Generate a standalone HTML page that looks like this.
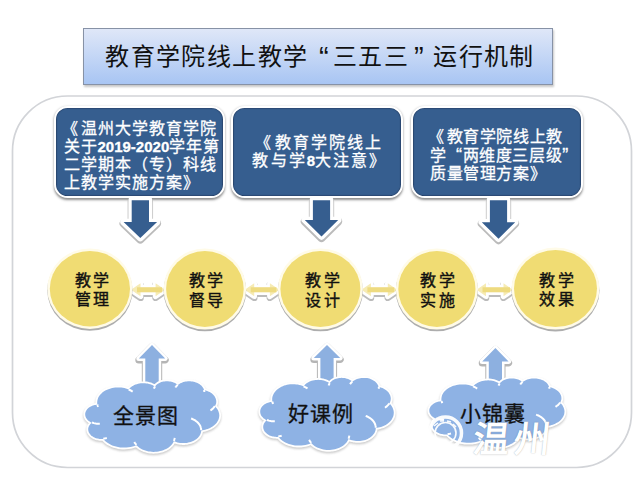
<!DOCTYPE html>
<html lang="zh-CN"><head><meta charset="utf-8">
<style>
html,body{margin:0;padding:0;background:#fff;}
body{width:640px;height:480px;overflow:hidden;position:relative;font-family:"Liberation Sans",sans-serif;}
.abs{position:absolute;}
#title{left:83px;top:28px;width:468px;height:55px;border:1px solid #8792a6;
 background:linear-gradient(#dfe7f8,#a8c5f3);box-shadow:1px 2px 2px rgba(0,0,0,0.22);
 font-size:24px;line-height:55px;text-align:center;color:#111;letter-spacing:1.45px;white-space:nowrap;text-indent:4px;}
.q{display:inline-block;width:24px;font-size:29px;line-height:20px;vertical-align:-2px;letter-spacing:0;}
.lq{position:relative;}
.box{background:#365E8F;border:2.5px solid #fff;border-radius:13.5px;box-shadow:0 1.5px 2.5px rgba(0,0,0,0.45),inset 0 0 1px 0.6px rgba(30,50,85,0.85);color:#fff;font-size:16px;line-height:18px;letter-spacing:1px;white-space:nowrap;-webkit-text-stroke:0.3px #fff;}
.num{font-weight:bold;letter-spacing:0;font-size:15px;}
.ct{position:absolute;font-size:16px;line-height:19.3px;color:#111;text-align:center;white-space:nowrap;letter-spacing:2.6px;-webkit-text-stroke:0.4px #111;}
.cl{position:absolute;font-size:21px;line-height:21px;color:#111;white-space:nowrap;letter-spacing:1.2px;-webkit-text-stroke:0.3px #111;}
svg{position:absolute;left:0;top:0;}
</style></head><body>
<div id="title" class="abs">教育学院线上教学<span class="q" style="text-align:right;padding-right:4px;width:20px">“</span>三五三<span class="q" style="text-align:left;padding-left:1px;width:23px">”</span>运行机制</div>
<div class="abs box" style="left:53.5px;top:106.1px;width:167.4px;height:87.65px;">
 <div style="position:absolute;left:8px;top:12.4px;"><span class="lq" style="left:-2px">《</span>温州大学教育学院<br>关于<span class="num">2019-2020</span>学年第<br>二学期本（专）科线<br>上教学实施方案》</div>
</div>
<div class="abs box" style="left:230.5px;top:106.1px;width:168.8px;height:87.65px;">
 <div style="position:absolute;left:3px;width:169px;top:25.6px;text-align:center;letter-spacing:2.1px;"><span class="lq" style="left:-1.5px">《</span>教育学院线上<br>教与学<span class="num">8</span>大注意》</div>
</div>
<div class="abs box" style="left:411px;top:106.1px;width:168.4px;height:87.65px;">
 <div style="position:absolute;left:17px;top:20.4px;letter-spacing:0.6px;font-size:16px;line-height:18.5px;"><span class="lq" style="left:-2px">《</span>教育学院线上教<br>学<span class="q" style="width:16px;text-align:right;font-size:18px;vertical-align:0;letter-spacing:0.6px;line-height:10px">“</span>两维度三层级<span class="q" style="width:16px;text-align:left;font-size:18px;vertical-align:0;letter-spacing:0.6px;line-height:10px">”</span><br>质量管理方案》</div>
</div>
<svg width="640" height="480" viewBox="0 0 640 480">
<defs><filter id="b1" x="-20%" y="-20%" width="140%" height="140%"><feGaussianBlur stdDeviation="0.8"/></filter><filter id="b2" x="-20%" y="-20%" width="140%" height="140%"><feGaussianBlur stdDeviation="0.5"/></filter></defs>
<rect x="12.5" y="96" width="619" height="371.5" rx="55" ry="55" fill="none" stroke="#d2d4d8" stroke-width="1.7"/>
<path d="M131.7,200.2 L149.0,200.2 L149.0,222.0 L157.1,222.0 L140.3,238.0 L123.6,222.0 L131.7,222.0Z" fill="#7a7a7a" stroke="#7a7a7a" stroke-width="8.1" stroke-linejoin="round" opacity="0.50" transform="translate(0,1.5)" filter="url(#b2)"/>
<path d="M131.7,200.2 L149.0,200.2 L149.0,222.0 L157.1,222.0 L140.3,238.0 L123.6,222.0 L131.7,222.0Z" fill="#fff" stroke="#fff" stroke-width="6.6" stroke-linejoin="round"/>
<path d="M131.7,200.2 L149.0,200.2 L149.0,222.0 L157.1,222.0 L140.3,238.0 L123.6,222.0 L131.7,222.0Z" fill="#365E8F"/>
<path d="M312.9,200.2 L330.1,200.2 L330.1,220.0 L338.2,220.0 L321.5,236.5 L304.8,220.0 L312.9,220.0Z" fill="#7a7a7a" stroke="#7a7a7a" stroke-width="8.1" stroke-linejoin="round" opacity="0.50" transform="translate(0,1.5)" filter="url(#b2)"/>
<path d="M312.9,200.2 L330.1,200.2 L330.1,220.0 L338.2,220.0 L321.5,236.5 L304.8,220.0 L312.9,220.0Z" fill="#fff" stroke="#fff" stroke-width="6.6" stroke-linejoin="round"/>
<path d="M312.9,200.2 L330.1,200.2 L330.1,220.0 L338.2,220.0 L321.5,236.5 L304.8,220.0 L312.9,220.0Z" fill="#365E8F"/>
<path d="M489.9,200.2 L507.1,200.2 L507.1,222.2 L515.2,222.2 L498.5,238.7 L481.8,222.2 L489.9,222.2Z" fill="#7a7a7a" stroke="#7a7a7a" stroke-width="8.1" stroke-linejoin="round" opacity="0.50" transform="translate(0,1.5)" filter="url(#b2)"/>
<path d="M489.9,200.2 L507.1,200.2 L507.1,222.2 L515.2,222.2 L498.5,238.7 L481.8,222.2 L489.9,222.2Z" fill="#fff" stroke="#fff" stroke-width="6.6" stroke-linejoin="round"/>
<path d="M489.9,200.2 L507.1,200.2 L507.1,222.2 L515.2,222.2 L498.5,238.7 L481.8,222.2 L489.9,222.2Z" fill="#365E8F"/>
<path d="M131.0,289.8 L140.5,283.3 L140.5,287.5 L155.6,287.5 L155.6,283.3 L165.1,289.8 L155.6,296.3 L155.6,292.1 L140.5,292.1 L140.5,296.3Z" fill="#7a7a7a" stroke="#7a7a7a" stroke-width="6.6" stroke-linejoin="round" opacity="0.50" transform="translate(0,1.6)" filter="url(#b2)"/>
<path d="M131.0,289.8 L140.5,283.3 L140.5,287.5 L155.6,287.5 L155.6,283.3 L165.1,289.8 L155.6,296.3 L155.6,292.1 L140.5,292.1 L140.5,296.3Z" fill="#fff" stroke="#fff" stroke-width="5.6" stroke-linejoin="round"/>
<path d="M131.0,289.8 L140.5,283.3 L140.5,287.5 L155.6,287.5 L155.6,283.3 L165.1,289.8 L155.6,296.3 L155.6,292.1 L140.5,292.1 L140.5,296.3Z" fill="#F6EBB4"/>
<rect x="137.0" y="287.3" width="25.1" height="5" fill="#EEDB80"/>
<path d="M244.7,289.8 L254.2,283.3 L254.2,287.5 L269.9,287.5 L269.9,283.3 L279.4,289.8 L269.9,296.3 L269.9,292.1 L254.2,292.1 L254.2,296.3Z" fill="#7a7a7a" stroke="#7a7a7a" stroke-width="6.6" stroke-linejoin="round" opacity="0.50" transform="translate(0,1.6)" filter="url(#b2)"/>
<path d="M244.7,289.8 L254.2,283.3 L254.2,287.5 L269.9,287.5 L269.9,283.3 L279.4,289.8 L269.9,296.3 L269.9,292.1 L254.2,292.1 L254.2,296.3Z" fill="#fff" stroke="#fff" stroke-width="5.6" stroke-linejoin="round"/>
<path d="M244.7,289.8 L254.2,283.3 L254.2,287.5 L269.9,287.5 L269.9,283.3 L279.4,289.8 L269.9,296.3 L269.9,292.1 L254.2,292.1 L254.2,296.3Z" fill="#F6EBB4"/>
<rect x="250.7" y="287.3" width="25.7" height="5" fill="#EEDB80"/>
<path d="M361.4,289.8 L370.9,283.3 L370.9,287.5 L387.8,287.5 L387.8,283.3 L397.3,289.8 L387.8,296.3 L387.8,292.1 L370.9,292.1 L370.9,296.3Z" fill="#7a7a7a" stroke="#7a7a7a" stroke-width="6.6" stroke-linejoin="round" opacity="0.50" transform="translate(0,1.6)" filter="url(#b2)"/>
<path d="M361.4,289.8 L370.9,283.3 L370.9,287.5 L387.8,287.5 L387.8,283.3 L397.3,289.8 L387.8,296.3 L387.8,292.1 L370.9,292.1 L370.9,296.3Z" fill="#fff" stroke="#fff" stroke-width="5.6" stroke-linejoin="round"/>
<path d="M361.4,289.8 L370.9,283.3 L370.9,287.5 L387.8,287.5 L387.8,283.3 L397.3,289.8 L387.8,296.3 L387.8,292.1 L370.9,292.1 L370.9,296.3Z" fill="#F6EBB4"/>
<rect x="367.4" y="287.3" width="26.9" height="5" fill="#EEDB80"/>
<path d="M476.5,289.8 L486.0,283.3 L486.0,287.5 L503.5,287.5 L503.5,283.3 L513.0,289.8 L503.5,296.3 L503.5,292.1 L486.0,292.1 L486.0,296.3Z" fill="#7a7a7a" stroke="#7a7a7a" stroke-width="6.6" stroke-linejoin="round" opacity="0.50" transform="translate(0,1.6)" filter="url(#b2)"/>
<path d="M476.5,289.8 L486.0,283.3 L486.0,287.5 L503.5,287.5 L503.5,283.3 L513.0,289.8 L503.5,296.3 L503.5,292.1 L486.0,292.1 L486.0,296.3Z" fill="#fff" stroke="#fff" stroke-width="5.6" stroke-linejoin="round"/>
<path d="M476.5,289.8 L486.0,283.3 L486.0,287.5 L503.5,287.5 L503.5,283.3 L513.0,289.8 L503.5,296.3 L503.5,292.1 L486.0,292.1 L486.0,296.3Z" fill="#F6EBB4"/>
<rect x="482.5" y="287.3" width="27.5" height="5" fill="#EEDB80"/>
<ellipse cx="89.9" cy="288.7" rx="42.6" ry="40.2" fill="#777" opacity="0.6" transform="translate(0,1.8)" filter="url(#b2)"/>
<ellipse cx="89.9" cy="288.7" rx="42.6" ry="40.2" fill="#fffbe8"/>
<ellipse cx="89.9" cy="288.7" rx="40.1" ry="37.7" fill="#F0DC73"/>
<ellipse cx="204.9" cy="289.0" rx="41.3" ry="40.5" fill="#777" opacity="0.6" transform="translate(0,1.8)" filter="url(#b2)"/>
<ellipse cx="204.9" cy="289.0" rx="41.3" ry="40.5" fill="#fffbe8"/>
<ellipse cx="204.9" cy="289.0" rx="38.8" ry="38.0" fill="#F0DC73"/>
<ellipse cx="320.4" cy="289.0" rx="42.5" ry="40.5" fill="#777" opacity="0.6" transform="translate(0,1.8)" filter="url(#b2)"/>
<ellipse cx="320.4" cy="289.0" rx="42.5" ry="40.5" fill="#fffbe8"/>
<ellipse cx="320.4" cy="289.0" rx="40.0" ry="38.0" fill="#F0DC73"/>
<ellipse cx="436.9" cy="289.0" rx="41.1" ry="40.5" fill="#777" opacity="0.6" transform="translate(0,1.8)" filter="url(#b2)"/>
<ellipse cx="436.9" cy="289.0" rx="41.1" ry="40.5" fill="#fffbe8"/>
<ellipse cx="436.9" cy="289.0" rx="38.6" ry="38.0" fill="#F0DC73"/>
<ellipse cx="555.5" cy="288.6" rx="44.0" ry="41.0" fill="#777" opacity="0.6" transform="translate(0,1.8)" filter="url(#b2)"/>
<ellipse cx="555.5" cy="288.6" rx="44.0" ry="41.0" fill="#fffbe8"/>
<ellipse cx="555.5" cy="288.6" rx="41.5" ry="38.5" fill="#F0DC73"/>
<path d="M145.3,384.0 L145.3,358.5 L138.8,358.5 L152.0,345.0 L165.2,358.5 L158.7,358.5 L158.7,384.0Z" fill="#7a7a7a" stroke="#7a7a7a" stroke-width="7.0" stroke-linejoin="round" opacity="0.55" transform="translate(0,1.5)" filter="url(#b2)"/>
<path d="M145.3,384.0 L145.3,358.5 L138.8,358.5 L152.0,345.0 L165.2,358.5 L158.7,358.5 L158.7,384.0Z" fill="#fff" stroke="#fff" stroke-width="5.0" stroke-linejoin="round"/>
<path d="M145.3,384.0 L145.3,358.5 L138.8,358.5 L152.0,345.0 L165.2,358.5 L158.7,358.5 L158.7,384.0Z" fill="#8DB0E0"/>
<path d="M320.4,384.0 L320.4,358.0 L313.8,358.0 L327.0,345.0 L340.2,358.0 L333.6,358.0 L333.6,384.0Z" fill="#7a7a7a" stroke="#7a7a7a" stroke-width="7.0" stroke-linejoin="round" opacity="0.55" transform="translate(0,1.5)" filter="url(#b2)"/>
<path d="M320.4,384.0 L320.4,358.0 L313.8,358.0 L327.0,345.0 L340.2,358.0 L333.6,358.0 L333.6,384.0Z" fill="#fff" stroke="#fff" stroke-width="5.0" stroke-linejoin="round"/>
<path d="M320.4,384.0 L320.4,358.0 L313.8,358.0 L327.0,345.0 L340.2,358.0 L333.6,358.0 L333.6,384.0Z" fill="#8DB0E0"/>
<path d="M488.8,384.0 L488.8,361.5 L482.2,361.5 L495.4,348.0 L508.6,361.5 L502.0,361.5 L502.0,384.0Z" fill="#7a7a7a" stroke="#7a7a7a" stroke-width="7.0" stroke-linejoin="round" opacity="0.55" transform="translate(0,1.5)" filter="url(#b2)"/>
<path d="M488.8,384.0 L488.8,361.5 L482.2,361.5 L495.4,348.0 L508.6,361.5 L502.0,361.5 L502.0,384.0Z" fill="#fff" stroke="#fff" stroke-width="5.0" stroke-linejoin="round"/>
<path d="M488.8,384.0 L488.8,361.5 L482.2,361.5 L495.4,348.0 L508.6,361.5 L502.0,361.5 L502.0,384.0Z" fill="#8DB0E0"/>
<path d="M97.4,404.5 L97.2,403.4 L97.2,402.3 L97.3,401.1 L97.5,400.0 L97.8,398.9 L98.2,397.8 L98.7,396.8 L99.4,395.8 L100.1,394.8 L101.0,393.9 L101.9,393.0 L102.9,392.1 L104.1,391.3 L105.3,390.6 L106.5,390.0 L107.8,389.4 L109.2,388.9 L110.7,388.4 L112.1,388.1 L113.7,387.8 L115.2,387.6 L116.7,387.5 L118.3,387.4 L119.9,387.5 L121.4,387.6 L122.9,387.8 L124.4,388.1 L125.9,388.5 L127.3,389.0 L128.7,389.5 L129.4,388.6 L130.2,387.8 L131.1,387.0 L132.1,386.3 L133.2,385.7 L134.3,385.1 L135.5,384.6 L136.8,384.2 L138.1,383.8 L139.4,383.5 L140.8,383.3 L142.2,383.2 L143.6,383.2 L145.0,383.3 L146.4,383.4 L147.7,383.6 L149.0,383.9 L150.3,384.3 L151.6,384.8 L152.8,385.3 L153.9,385.9 L154.9,386.6 L155.5,385.9 L156.1,385.2 L156.8,384.6 L157.6,384.0 L158.4,383.4 L159.4,382.9 L160.3,382.5 L161.3,382.1 L162.4,381.8 L163.5,381.6 L164.6,381.4 L165.7,381.3 L166.9,381.2 L168.0,381.3 L169.2,381.4 L170.3,381.5 L171.4,381.7 L172.4,382.0 L173.5,382.4 L174.4,382.8 L175.4,383.3 L176.2,383.8 L177.0,384.4 L177.8,385.1 L178.6,384.4 L179.4,383.9 L180.3,383.3 L181.3,382.9 L182.3,382.5 L183.4,382.1 L184.5,381.8 L185.6,381.6 L186.8,381.4 L187.9,381.3 L189.1,381.2 L190.3,381.3 L191.4,381.4 L192.6,381.5 L193.7,381.7 L194.8,382.0 L195.9,382.4 L196.9,382.8 L197.9,383.2 L198.8,383.7 L199.7,384.3 L200.5,384.9 L201.3,385.5 L201.9,386.2 L202.5,387.0 L203.0,387.7 L203.5,388.5 L203.8,389.3 L204.1,390.1 L205.1,390.3 L206.0,390.6 L207.0,390.9 L207.9,391.3 L208.8,391.7 L209.7,392.1 L210.5,392.6 L211.3,393.1 L212.0,393.6 L212.7,394.2 L213.3,394.8 L213.9,395.4 L214.4,396.1 L214.8,396.8 L215.2,397.5 L215.6,398.2 L215.8,398.9 L216.0,399.6 L216.2,400.4 L216.2,401.1 L216.3,401.9 L216.2,402.6 L216.1,403.4 L215.9,404.1 L215.6,404.8 L215.3,405.6 L214.9,406.3 L215.7,407.1 L216.4,407.9 L217.1,408.8 L217.7,409.7 L218.1,410.6 L218.5,411.5 L218.8,412.5 L219.1,413.4 L219.2,414.4 L219.3,415.4 L219.2,416.4 L219.1,417.3 L218.9,418.3 L218.6,419.3 L218.2,420.2 L217.7,421.1 L217.2,422.0 L216.5,422.9 L215.8,423.7 L215.0,424.5 L214.2,425.3 L213.2,426.0 L212.2,426.7 L211.2,427.3 L210.1,427.9 L208.9,428.4 L207.7,428.9 L206.5,429.3 L205.2,429.7 L203.9,430.0 L202.6,430.2 L201.2,430.4 L201.2,431.3 L201.0,432.3 L200.7,433.3 L200.4,434.2 L199.9,435.1 L199.4,436.0 L198.7,436.8 L198.0,437.7 L197.1,438.4 L196.2,439.2 L195.3,439.8 L194.2,440.5 L193.1,441.0 L191.9,441.5 L190.7,442.0 L189.5,442.3 L188.2,442.6 L186.9,442.9 L185.5,443.0 L184.2,443.1 L182.8,443.1 L181.5,443.0 L180.1,442.9 L178.8,442.7 L177.5,442.4 L176.2,442.1 L175.0,441.6 L173.8,441.2 L173.3,442.3 L172.6,443.4 L171.8,444.5 L170.9,445.5 L169.8,446.5 L168.7,447.4 L167.5,448.2 L166.1,449.0 L164.7,449.6 L163.3,450.2 L161.7,450.7 L160.1,451.1 L158.5,451.5 L156.9,451.7 L155.2,451.8 L153.5,451.9 L151.8,451.8 L150.1,451.6 L148.5,451.4 L146.9,451.0 L145.3,450.6 L143.8,450.0 L142.3,449.4 L141.0,448.7 L139.7,447.9 L138.5,447.1 L137.4,446.1 L136.4,445.2 L134.5,445.9 L132.6,446.5 L130.6,447.0 L128.5,447.3 L126.4,447.5 L124.3,447.6 L122.2,447.6 L120.1,447.4 L118.0,447.1 L116.0,446.6 L114.0,446.1 L112.2,445.4 L110.4,444.5 L108.7,443.6 L107.1,442.6 L105.7,441.5 L104.4,440.3 L103.3,439.0 L102.4,439.0 L101.5,439.0 L100.5,439.0 L99.6,438.9 L98.7,438.8 L97.9,438.6 L97.0,438.4 L96.1,438.2 L95.3,437.9 L94.5,437.6 L93.8,437.2 L93.0,436.8 L92.4,436.3 L91.7,435.9 L91.1,435.4 L90.6,434.8 L90.1,434.3 L89.7,433.7 L89.3,433.1 L88.9,432.5 L88.7,431.9 L88.5,431.3 L88.3,430.6 L88.2,430.0 L88.2,429.3 L88.2,428.6 L88.3,428.0 L88.5,427.3 L88.7,426.7 L89.0,426.1 L89.3,425.5 L89.7,424.9 L90.2,424.3 L90.7,423.8 L91.2,423.2 L91.9,422.8 L91.1,422.4 L90.4,422.0 L89.7,421.6 L89.1,421.2 L88.5,420.7 L87.9,420.2 L87.4,419.7 L86.9,419.1 L86.5,418.6 L86.2,418.0 L85.9,417.4 L85.6,416.8 L85.4,416.1 L85.3,415.5 L85.2,414.9 L85.2,414.2 L85.2,413.6 L85.3,412.9 L85.5,412.3 L85.7,411.7 L86.0,411.1 L86.3,410.5 L86.7,409.9 L87.1,409.3 L87.6,408.8 L88.1,408.3 L88.7,407.8 L89.3,407.3 L90.0,406.9 L90.7,406.5 L91.4,406.2 L92.2,405.8 L93.0,405.5 L93.8,405.3 L94.7,405.1 L95.5,404.9 L96.4,404.8 L97.3,404.7Z" fill="#7a7a7a" stroke="#7a7a7a" stroke-width="3.6" stroke-linejoin="round" opacity="0.40" transform="translate(0,1.5)" filter="url(#b1)"/>
<path d="M97.4,404.5 L97.2,403.4 L97.2,402.3 L97.3,401.1 L97.5,400.0 L97.8,398.9 L98.2,397.8 L98.7,396.8 L99.4,395.8 L100.1,394.8 L101.0,393.9 L101.9,393.0 L102.9,392.1 L104.1,391.3 L105.3,390.6 L106.5,390.0 L107.8,389.4 L109.2,388.9 L110.7,388.4 L112.1,388.1 L113.7,387.8 L115.2,387.6 L116.7,387.5 L118.3,387.4 L119.9,387.5 L121.4,387.6 L122.9,387.8 L124.4,388.1 L125.9,388.5 L127.3,389.0 L128.7,389.5 L129.4,388.6 L130.2,387.8 L131.1,387.0 L132.1,386.3 L133.2,385.7 L134.3,385.1 L135.5,384.6 L136.8,384.2 L138.1,383.8 L139.4,383.5 L140.8,383.3 L142.2,383.2 L143.6,383.2 L145.0,383.3 L146.4,383.4 L147.7,383.6 L149.0,383.9 L150.3,384.3 L151.6,384.8 L152.8,385.3 L153.9,385.9 L154.9,386.6 L155.5,385.9 L156.1,385.2 L156.8,384.6 L157.6,384.0 L158.4,383.4 L159.4,382.9 L160.3,382.5 L161.3,382.1 L162.4,381.8 L163.5,381.6 L164.6,381.4 L165.7,381.3 L166.9,381.2 L168.0,381.3 L169.2,381.4 L170.3,381.5 L171.4,381.7 L172.4,382.0 L173.5,382.4 L174.4,382.8 L175.4,383.3 L176.2,383.8 L177.0,384.4 L177.8,385.1 L178.6,384.4 L179.4,383.9 L180.3,383.3 L181.3,382.9 L182.3,382.5 L183.4,382.1 L184.5,381.8 L185.6,381.6 L186.8,381.4 L187.9,381.3 L189.1,381.2 L190.3,381.3 L191.4,381.4 L192.6,381.5 L193.7,381.7 L194.8,382.0 L195.9,382.4 L196.9,382.8 L197.9,383.2 L198.8,383.7 L199.7,384.3 L200.5,384.9 L201.3,385.5 L201.9,386.2 L202.5,387.0 L203.0,387.7 L203.5,388.5 L203.8,389.3 L204.1,390.1 L205.1,390.3 L206.0,390.6 L207.0,390.9 L207.9,391.3 L208.8,391.7 L209.7,392.1 L210.5,392.6 L211.3,393.1 L212.0,393.6 L212.7,394.2 L213.3,394.8 L213.9,395.4 L214.4,396.1 L214.8,396.8 L215.2,397.5 L215.6,398.2 L215.8,398.9 L216.0,399.6 L216.2,400.4 L216.2,401.1 L216.3,401.9 L216.2,402.6 L216.1,403.4 L215.9,404.1 L215.6,404.8 L215.3,405.6 L214.9,406.3 L215.7,407.1 L216.4,407.9 L217.1,408.8 L217.7,409.7 L218.1,410.6 L218.5,411.5 L218.8,412.5 L219.1,413.4 L219.2,414.4 L219.3,415.4 L219.2,416.4 L219.1,417.3 L218.9,418.3 L218.6,419.3 L218.2,420.2 L217.7,421.1 L217.2,422.0 L216.5,422.9 L215.8,423.7 L215.0,424.5 L214.2,425.3 L213.2,426.0 L212.2,426.7 L211.2,427.3 L210.1,427.9 L208.9,428.4 L207.7,428.9 L206.5,429.3 L205.2,429.7 L203.9,430.0 L202.6,430.2 L201.2,430.4 L201.2,431.3 L201.0,432.3 L200.7,433.3 L200.4,434.2 L199.9,435.1 L199.4,436.0 L198.7,436.8 L198.0,437.7 L197.1,438.4 L196.2,439.2 L195.3,439.8 L194.2,440.5 L193.1,441.0 L191.9,441.5 L190.7,442.0 L189.5,442.3 L188.2,442.6 L186.9,442.9 L185.5,443.0 L184.2,443.1 L182.8,443.1 L181.5,443.0 L180.1,442.9 L178.8,442.7 L177.5,442.4 L176.2,442.1 L175.0,441.6 L173.8,441.2 L173.3,442.3 L172.6,443.4 L171.8,444.5 L170.9,445.5 L169.8,446.5 L168.7,447.4 L167.5,448.2 L166.1,449.0 L164.7,449.6 L163.3,450.2 L161.7,450.7 L160.1,451.1 L158.5,451.5 L156.9,451.7 L155.2,451.8 L153.5,451.9 L151.8,451.8 L150.1,451.6 L148.5,451.4 L146.9,451.0 L145.3,450.6 L143.8,450.0 L142.3,449.4 L141.0,448.7 L139.7,447.9 L138.5,447.1 L137.4,446.1 L136.4,445.2 L134.5,445.9 L132.6,446.5 L130.6,447.0 L128.5,447.3 L126.4,447.5 L124.3,447.6 L122.2,447.6 L120.1,447.4 L118.0,447.1 L116.0,446.6 L114.0,446.1 L112.2,445.4 L110.4,444.5 L108.7,443.6 L107.1,442.6 L105.7,441.5 L104.4,440.3 L103.3,439.0 L102.4,439.0 L101.5,439.0 L100.5,439.0 L99.6,438.9 L98.7,438.8 L97.9,438.6 L97.0,438.4 L96.1,438.2 L95.3,437.9 L94.5,437.6 L93.8,437.2 L93.0,436.8 L92.4,436.3 L91.7,435.9 L91.1,435.4 L90.6,434.8 L90.1,434.3 L89.7,433.7 L89.3,433.1 L88.9,432.5 L88.7,431.9 L88.5,431.3 L88.3,430.6 L88.2,430.0 L88.2,429.3 L88.2,428.6 L88.3,428.0 L88.5,427.3 L88.7,426.7 L89.0,426.1 L89.3,425.5 L89.7,424.9 L90.2,424.3 L90.7,423.8 L91.2,423.2 L91.9,422.8 L91.1,422.4 L90.4,422.0 L89.7,421.6 L89.1,421.2 L88.5,420.7 L87.9,420.2 L87.4,419.7 L86.9,419.1 L86.5,418.6 L86.2,418.0 L85.9,417.4 L85.6,416.8 L85.4,416.1 L85.3,415.5 L85.2,414.9 L85.2,414.2 L85.2,413.6 L85.3,412.9 L85.5,412.3 L85.7,411.7 L86.0,411.1 L86.3,410.5 L86.7,409.9 L87.1,409.3 L87.6,408.8 L88.1,408.3 L88.7,407.8 L89.3,407.3 L90.0,406.9 L90.7,406.5 L91.4,406.2 L92.2,405.8 L93.0,405.5 L93.8,405.3 L94.7,405.1 L95.5,404.9 L96.4,404.8 L97.3,404.7Z" fill="#fff" stroke="#fff" stroke-width="3.6" stroke-linejoin="round"/>
<path d="M97.4,404.5 L97.2,403.4 L97.2,402.3 L97.3,401.1 L97.5,400.0 L97.8,398.9 L98.2,397.8 L98.7,396.8 L99.4,395.8 L100.1,394.8 L101.0,393.9 L101.9,393.0 L102.9,392.1 L104.1,391.3 L105.3,390.6 L106.5,390.0 L107.8,389.4 L109.2,388.9 L110.7,388.4 L112.1,388.1 L113.7,387.8 L115.2,387.6 L116.7,387.5 L118.3,387.4 L119.9,387.5 L121.4,387.6 L122.9,387.8 L124.4,388.1 L125.9,388.5 L127.3,389.0 L128.7,389.5 L129.4,388.6 L130.2,387.8 L131.1,387.0 L132.1,386.3 L133.2,385.7 L134.3,385.1 L135.5,384.6 L136.8,384.2 L138.1,383.8 L139.4,383.5 L140.8,383.3 L142.2,383.2 L143.6,383.2 L145.0,383.3 L146.4,383.4 L147.7,383.6 L149.0,383.9 L150.3,384.3 L151.6,384.8 L152.8,385.3 L153.9,385.9 L154.9,386.6 L155.5,385.9 L156.1,385.2 L156.8,384.6 L157.6,384.0 L158.4,383.4 L159.4,382.9 L160.3,382.5 L161.3,382.1 L162.4,381.8 L163.5,381.6 L164.6,381.4 L165.7,381.3 L166.9,381.2 L168.0,381.3 L169.2,381.4 L170.3,381.5 L171.4,381.7 L172.4,382.0 L173.5,382.4 L174.4,382.8 L175.4,383.3 L176.2,383.8 L177.0,384.4 L177.8,385.1 L178.6,384.4 L179.4,383.9 L180.3,383.3 L181.3,382.9 L182.3,382.5 L183.4,382.1 L184.5,381.8 L185.6,381.6 L186.8,381.4 L187.9,381.3 L189.1,381.2 L190.3,381.3 L191.4,381.4 L192.6,381.5 L193.7,381.7 L194.8,382.0 L195.9,382.4 L196.9,382.8 L197.9,383.2 L198.8,383.7 L199.7,384.3 L200.5,384.9 L201.3,385.5 L201.9,386.2 L202.5,387.0 L203.0,387.7 L203.5,388.5 L203.8,389.3 L204.1,390.1 L205.1,390.3 L206.0,390.6 L207.0,390.9 L207.9,391.3 L208.8,391.7 L209.7,392.1 L210.5,392.6 L211.3,393.1 L212.0,393.6 L212.7,394.2 L213.3,394.8 L213.9,395.4 L214.4,396.1 L214.8,396.8 L215.2,397.5 L215.6,398.2 L215.8,398.9 L216.0,399.6 L216.2,400.4 L216.2,401.1 L216.3,401.9 L216.2,402.6 L216.1,403.4 L215.9,404.1 L215.6,404.8 L215.3,405.6 L214.9,406.3 L215.7,407.1 L216.4,407.9 L217.1,408.8 L217.7,409.7 L218.1,410.6 L218.5,411.5 L218.8,412.5 L219.1,413.4 L219.2,414.4 L219.3,415.4 L219.2,416.4 L219.1,417.3 L218.9,418.3 L218.6,419.3 L218.2,420.2 L217.7,421.1 L217.2,422.0 L216.5,422.9 L215.8,423.7 L215.0,424.5 L214.2,425.3 L213.2,426.0 L212.2,426.7 L211.2,427.3 L210.1,427.9 L208.9,428.4 L207.7,428.9 L206.5,429.3 L205.2,429.7 L203.9,430.0 L202.6,430.2 L201.2,430.4 L201.2,431.3 L201.0,432.3 L200.7,433.3 L200.4,434.2 L199.9,435.1 L199.4,436.0 L198.7,436.8 L198.0,437.7 L197.1,438.4 L196.2,439.2 L195.3,439.8 L194.2,440.5 L193.1,441.0 L191.9,441.5 L190.7,442.0 L189.5,442.3 L188.2,442.6 L186.9,442.9 L185.5,443.0 L184.2,443.1 L182.8,443.1 L181.5,443.0 L180.1,442.9 L178.8,442.7 L177.5,442.4 L176.2,442.1 L175.0,441.6 L173.8,441.2 L173.3,442.3 L172.6,443.4 L171.8,444.5 L170.9,445.5 L169.8,446.5 L168.7,447.4 L167.5,448.2 L166.1,449.0 L164.7,449.6 L163.3,450.2 L161.7,450.7 L160.1,451.1 L158.5,451.5 L156.9,451.7 L155.2,451.8 L153.5,451.9 L151.8,451.8 L150.1,451.6 L148.5,451.4 L146.9,451.0 L145.3,450.6 L143.8,450.0 L142.3,449.4 L141.0,448.7 L139.7,447.9 L138.5,447.1 L137.4,446.1 L136.4,445.2 L134.5,445.9 L132.6,446.5 L130.6,447.0 L128.5,447.3 L126.4,447.5 L124.3,447.6 L122.2,447.6 L120.1,447.4 L118.0,447.1 L116.0,446.6 L114.0,446.1 L112.2,445.4 L110.4,444.5 L108.7,443.6 L107.1,442.6 L105.7,441.5 L104.4,440.3 L103.3,439.0 L102.4,439.0 L101.5,439.0 L100.5,439.0 L99.6,438.9 L98.7,438.8 L97.9,438.6 L97.0,438.4 L96.1,438.2 L95.3,437.9 L94.5,437.6 L93.8,437.2 L93.0,436.8 L92.4,436.3 L91.7,435.9 L91.1,435.4 L90.6,434.8 L90.1,434.3 L89.7,433.7 L89.3,433.1 L88.9,432.5 L88.7,431.9 L88.5,431.3 L88.3,430.6 L88.2,430.0 L88.2,429.3 L88.2,428.6 L88.3,428.0 L88.5,427.3 L88.7,426.7 L89.0,426.1 L89.3,425.5 L89.7,424.9 L90.2,424.3 L90.7,423.8 L91.2,423.2 L91.9,422.8 L91.1,422.4 L90.4,422.0 L89.7,421.6 L89.1,421.2 L88.5,420.7 L87.9,420.2 L87.4,419.7 L86.9,419.1 L86.5,418.6 L86.2,418.0 L85.9,417.4 L85.6,416.8 L85.4,416.1 L85.3,415.5 L85.2,414.9 L85.2,414.2 L85.2,413.6 L85.3,412.9 L85.5,412.3 L85.7,411.7 L86.0,411.1 L86.3,410.5 L86.7,409.9 L87.1,409.3 L87.6,408.8 L88.1,408.3 L88.7,407.8 L89.3,407.3 L90.0,406.9 L90.7,406.5 L91.4,406.2 L92.2,405.8 L93.0,405.5 L93.8,405.3 L94.7,405.1 L95.5,404.9 L96.4,404.8 L97.3,404.7Z" fill="#8EB2E4"/>
<path d="M99.8,423.8 L98.8,423.8 L97.8,423.8 L96.8,423.7 L95.8,423.6 L94.8,423.4 L93.8,423.1 L92.9,422.8 L92.0,422.5M106.8,438.0 L105.7,438.3 L104.5,438.5 L103.3,438.7M136.4,444.9 L135.8,444.2 L135.2,443.5 L134.7,442.8 L134.3,442.0M174.7,437.8 L174.6,438.4 L174.4,439.1 L174.3,439.7 L174.1,440.3 L173.8,440.9M191.1,418.5 L191.9,418.8 L192.6,419.1 L193.4,419.5 L194.1,419.8 L194.8,420.2 L195.4,420.6 L196.0,421.1 L196.6,421.5 L197.2,422.0 L197.7,422.5 L198.2,423.0 L198.7,423.6 L199.1,424.1 L199.5,424.7 L199.9,425.3 L200.2,425.8 L200.4,426.4 L200.7,427.1 L200.8,427.7 L201.0,428.3 L201.1,428.9 L201.1,429.5 L201.2,430.2M214.9,406.1 L214.5,406.6 L214.1,407.2 L213.7,407.7 L213.2,408.2 L212.7,408.7 L212.2,409.2 L211.6,409.6 L211.0,410.1 L210.4,410.5M204.1,389.9 L204.2,390.4 L204.3,390.9 L204.3,391.4 L204.3,391.9M175.4,387.5 L175.7,387.0 L176.1,386.5 L176.4,386.1 L176.8,385.6 L177.3,385.2 L177.7,384.8M153.9,388.7 L154.1,388.2 L154.3,387.8 L154.5,387.3 L154.8,386.9 L155.0,386.4M128.7,389.5 L129.8,390.0 L130.8,390.5 L131.8,391.1 L132.7,391.7M98.1,406.8 L97.8,406.0 L97.6,405.3 L97.4,404.5" fill="none" stroke="#fff" stroke-width="2"/>
<path d="M272.3,401.6 L272.2,400.4 L272.2,399.3 L272.2,398.2 L272.4,397.0 L272.7,395.9 L273.2,394.8 L273.7,393.7 L274.3,392.7 L275.1,391.7 L275.9,390.7 L276.9,389.8 L277.9,389.0 L279.0,388.2 L280.2,387.4 L281.4,386.8 L282.8,386.2 L284.1,385.6 L285.6,385.2 L287.0,384.8 L288.5,384.5 L290.1,384.3 L291.6,384.2 L293.2,384.2 L294.7,384.2 L296.3,384.4 L297.8,384.6 L299.3,384.9 L300.8,385.3 L302.2,385.7 L303.5,386.3 L304.3,385.4 L305.1,384.6 L306.0,383.8 L306.9,383.1 L308.0,382.4 L309.1,381.8 L310.3,381.3 L311.6,380.8 L312.9,380.5 L314.2,380.2 L315.6,380.0 L317.0,379.9 L318.4,379.8 L319.8,379.9 L321.1,380.1 L322.5,380.3 L323.8,380.6 L325.1,381.0 L326.3,381.5 L327.5,382.0 L328.6,382.6 L329.6,383.3 L330.2,382.6 L330.8,381.9 L331.5,381.2 L332.3,380.6 L333.2,380.1 L334.1,379.6 L335.0,379.1 L336.1,378.7 L337.1,378.4 L338.2,378.2 L339.3,378.0 L340.4,377.9 L341.6,377.8 L342.7,377.9 L343.8,378.0 L345.0,378.1 L346.0,378.4 L347.1,378.7 L348.1,379.0 L349.1,379.5 L350.0,380.0 L350.9,380.5 L351.7,381.1 L352.4,381.7 L353.2,381.1 L354.1,380.5 L355.0,380.0 L355.9,379.5 L357.0,379.1 L358.0,378.7 L359.1,378.4 L360.2,378.2 L361.4,378.0 L362.5,377.9 L363.7,377.9 L364.9,377.9 L366.0,378.0 L367.2,378.1 L368.3,378.3 L369.4,378.6 L370.5,379.0 L371.5,379.4 L372.5,379.9 L373.4,380.4 L374.3,380.9 L375.1,381.6 L375.8,382.2 L376.5,382.9 L377.1,383.7 L377.6,384.4 L378.0,385.2 L378.4,386.1 L378.6,386.9 L379.6,387.1 L380.6,387.4 L381.5,387.7 L382.5,388.1 L383.4,388.5 L384.2,388.9 L385.0,389.4 L385.8,389.9 L386.5,390.5 L387.2,391.1 L387.8,391.7 L388.4,392.3 L388.9,393.0 L389.3,393.7 L389.7,394.4 L390.1,395.1 L390.3,395.9 L390.5,396.6 L390.7,397.4 L390.8,398.2 L390.8,398.9 L390.7,399.7 L390.6,400.5 L390.4,401.2 L390.1,402.0 L389.8,402.7 L389.4,403.4 L390.2,404.2 L390.9,405.1 L391.6,405.9 L392.2,406.9 L392.6,407.8 L393.0,408.8 L393.3,409.7 L393.6,410.7 L393.7,411.7 L393.8,412.7 L393.7,413.7 L393.6,414.7 L393.4,415.7 L393.1,416.7 L392.7,417.6 L392.2,418.6 L391.7,419.5 L391.0,420.4 L390.3,421.2 L389.5,422.1 L388.7,422.8 L387.8,423.6 L386.8,424.3 L385.7,424.9 L384.6,425.5 L383.5,426.0 L382.3,426.5 L381.0,426.9 L379.8,427.3 L378.5,427.6 L377.1,427.8 L375.8,428.0 L375.7,429.0 L375.6,430.0 L375.3,431.0 L374.9,431.9 L374.5,432.9 L373.9,433.8 L373.3,434.6 L372.5,435.5 L371.7,436.3 L370.8,437.0 L369.8,437.7 L368.8,438.3 L367.7,438.9 L366.5,439.4 L365.3,439.9 L364.1,440.2 L362.8,440.5 L361.5,440.8 L360.1,440.9 L358.8,441.0 L357.4,441.0 L356.1,441.0 L354.8,440.8 L353.4,440.6 L352.1,440.3 L350.9,440.0 L349.7,439.5 L348.5,439.0 L347.9,440.2 L347.3,441.3 L346.5,442.4 L345.5,443.5 L344.5,444.5 L343.4,445.4 L342.2,446.2 L340.8,447.0 L339.4,447.7 L338.0,448.3 L336.4,448.8 L334.9,449.2 L333.2,449.6 L331.6,449.8 L329.9,449.9 L328.2,450.0 L326.6,449.9 L324.9,449.7 L323.3,449.5 L321.6,449.1 L320.1,448.6 L318.6,448.1 L317.1,447.5 L315.8,446.7 L314.5,445.9 L313.3,445.1 L312.2,444.1 L311.2,443.1 L309.3,443.9 L307.4,444.5 L305.4,445.0 L303.4,445.3 L301.3,445.6 L299.2,445.6 L297.1,445.6 L295.0,445.4 L292.9,445.1 L290.9,444.6 L288.9,444.0 L287.1,443.3 L285.3,442.5 L283.6,441.5 L282.1,440.5 L280.6,439.3 L279.4,438.1 L278.2,436.8 L277.3,436.9 L276.4,436.9 L275.5,436.8 L274.6,436.7 L273.7,436.6 L272.8,436.5 L271.9,436.2 L271.1,436.0 L270.3,435.7 L269.5,435.4 L268.7,435.0 L268.0,434.6 L267.3,434.1 L266.7,433.6 L266.1,433.1 L265.6,432.6 L265.1,432.0 L264.6,431.4 L264.3,430.8 L263.9,430.2 L263.7,429.6 L263.5,428.9 L263.3,428.3 L263.2,427.6 L263.2,426.9 L263.2,426.3 L263.3,425.6 L263.5,424.9 L263.7,424.3 L264.0,423.6 L264.3,423.0 L264.7,422.4 L265.2,421.8 L265.7,421.3 L266.2,420.7 L266.8,420.2 L266.1,419.9 L265.4,419.5 L264.7,419.1 L264.0,418.6 L263.4,418.2 L262.9,417.6 L262.4,417.1 L261.9,416.5 L261.5,416.0 L261.2,415.4 L260.8,414.7 L260.6,414.1 L260.4,413.5 L260.3,412.8 L260.2,412.2 L260.2,411.5 L260.2,410.9 L260.3,410.2 L260.5,409.6 L260.7,408.9 L261.0,408.3 L261.3,407.7 L261.7,407.1 L262.1,406.5 L262.6,406.0 L263.1,405.5 L263.7,405.0 L264.3,404.5 L265.0,404.1 L265.7,403.7 L266.4,403.3 L267.2,403.0 L268.0,402.7 L268.8,402.4 L269.6,402.2 L270.5,402.0 L271.4,401.9 L272.2,401.8Z" fill="#7a7a7a" stroke="#7a7a7a" stroke-width="3.6" stroke-linejoin="round" opacity="0.40" transform="translate(0,1.5)" filter="url(#b1)"/>
<path d="M272.3,401.6 L272.2,400.4 L272.2,399.3 L272.2,398.2 L272.4,397.0 L272.7,395.9 L273.2,394.8 L273.7,393.7 L274.3,392.7 L275.1,391.7 L275.9,390.7 L276.9,389.8 L277.9,389.0 L279.0,388.2 L280.2,387.4 L281.4,386.8 L282.8,386.2 L284.1,385.6 L285.6,385.2 L287.0,384.8 L288.5,384.5 L290.1,384.3 L291.6,384.2 L293.2,384.2 L294.7,384.2 L296.3,384.4 L297.8,384.6 L299.3,384.9 L300.8,385.3 L302.2,385.7 L303.5,386.3 L304.3,385.4 L305.1,384.6 L306.0,383.8 L306.9,383.1 L308.0,382.4 L309.1,381.8 L310.3,381.3 L311.6,380.8 L312.9,380.5 L314.2,380.2 L315.6,380.0 L317.0,379.9 L318.4,379.8 L319.8,379.9 L321.1,380.1 L322.5,380.3 L323.8,380.6 L325.1,381.0 L326.3,381.5 L327.5,382.0 L328.6,382.6 L329.6,383.3 L330.2,382.6 L330.8,381.9 L331.5,381.2 L332.3,380.6 L333.2,380.1 L334.1,379.6 L335.0,379.1 L336.1,378.7 L337.1,378.4 L338.2,378.2 L339.3,378.0 L340.4,377.9 L341.6,377.8 L342.7,377.9 L343.8,378.0 L345.0,378.1 L346.0,378.4 L347.1,378.7 L348.1,379.0 L349.1,379.5 L350.0,380.0 L350.9,380.5 L351.7,381.1 L352.4,381.7 L353.2,381.1 L354.1,380.5 L355.0,380.0 L355.9,379.5 L357.0,379.1 L358.0,378.7 L359.1,378.4 L360.2,378.2 L361.4,378.0 L362.5,377.9 L363.7,377.9 L364.9,377.9 L366.0,378.0 L367.2,378.1 L368.3,378.3 L369.4,378.6 L370.5,379.0 L371.5,379.4 L372.5,379.9 L373.4,380.4 L374.3,380.9 L375.1,381.6 L375.8,382.2 L376.5,382.9 L377.1,383.7 L377.6,384.4 L378.0,385.2 L378.4,386.1 L378.6,386.9 L379.6,387.1 L380.6,387.4 L381.5,387.7 L382.5,388.1 L383.4,388.5 L384.2,388.9 L385.0,389.4 L385.8,389.9 L386.5,390.5 L387.2,391.1 L387.8,391.7 L388.4,392.3 L388.9,393.0 L389.3,393.7 L389.7,394.4 L390.1,395.1 L390.3,395.9 L390.5,396.6 L390.7,397.4 L390.8,398.2 L390.8,398.9 L390.7,399.7 L390.6,400.5 L390.4,401.2 L390.1,402.0 L389.8,402.7 L389.4,403.4 L390.2,404.2 L390.9,405.1 L391.6,405.9 L392.2,406.9 L392.6,407.8 L393.0,408.8 L393.3,409.7 L393.6,410.7 L393.7,411.7 L393.8,412.7 L393.7,413.7 L393.6,414.7 L393.4,415.7 L393.1,416.7 L392.7,417.6 L392.2,418.6 L391.7,419.5 L391.0,420.4 L390.3,421.2 L389.5,422.1 L388.7,422.8 L387.8,423.6 L386.8,424.3 L385.7,424.9 L384.6,425.5 L383.5,426.0 L382.3,426.5 L381.0,426.9 L379.8,427.3 L378.5,427.6 L377.1,427.8 L375.8,428.0 L375.7,429.0 L375.6,430.0 L375.3,431.0 L374.9,431.9 L374.5,432.9 L373.9,433.8 L373.3,434.6 L372.5,435.5 L371.7,436.3 L370.8,437.0 L369.8,437.7 L368.8,438.3 L367.7,438.9 L366.5,439.4 L365.3,439.9 L364.1,440.2 L362.8,440.5 L361.5,440.8 L360.1,440.9 L358.8,441.0 L357.4,441.0 L356.1,441.0 L354.8,440.8 L353.4,440.6 L352.1,440.3 L350.9,440.0 L349.7,439.5 L348.5,439.0 L347.9,440.2 L347.3,441.3 L346.5,442.4 L345.5,443.5 L344.5,444.5 L343.4,445.4 L342.2,446.2 L340.8,447.0 L339.4,447.7 L338.0,448.3 L336.4,448.8 L334.9,449.2 L333.2,449.6 L331.6,449.8 L329.9,449.9 L328.2,450.0 L326.6,449.9 L324.9,449.7 L323.3,449.5 L321.6,449.1 L320.1,448.6 L318.6,448.1 L317.1,447.5 L315.8,446.7 L314.5,445.9 L313.3,445.1 L312.2,444.1 L311.2,443.1 L309.3,443.9 L307.4,444.5 L305.4,445.0 L303.4,445.3 L301.3,445.6 L299.2,445.6 L297.1,445.6 L295.0,445.4 L292.9,445.1 L290.9,444.6 L288.9,444.0 L287.1,443.3 L285.3,442.5 L283.6,441.5 L282.1,440.5 L280.6,439.3 L279.4,438.1 L278.2,436.8 L277.3,436.9 L276.4,436.9 L275.5,436.8 L274.6,436.7 L273.7,436.6 L272.8,436.5 L271.9,436.2 L271.1,436.0 L270.3,435.7 L269.5,435.4 L268.7,435.0 L268.0,434.6 L267.3,434.1 L266.7,433.6 L266.1,433.1 L265.6,432.6 L265.1,432.0 L264.6,431.4 L264.3,430.8 L263.9,430.2 L263.7,429.6 L263.5,428.9 L263.3,428.3 L263.2,427.6 L263.2,426.9 L263.2,426.3 L263.3,425.6 L263.5,424.9 L263.7,424.3 L264.0,423.6 L264.3,423.0 L264.7,422.4 L265.2,421.8 L265.7,421.3 L266.2,420.7 L266.8,420.2 L266.1,419.9 L265.4,419.5 L264.7,419.1 L264.0,418.6 L263.4,418.2 L262.9,417.6 L262.4,417.1 L261.9,416.5 L261.5,416.0 L261.2,415.4 L260.8,414.7 L260.6,414.1 L260.4,413.5 L260.3,412.8 L260.2,412.2 L260.2,411.5 L260.2,410.9 L260.3,410.2 L260.5,409.6 L260.7,408.9 L261.0,408.3 L261.3,407.7 L261.7,407.1 L262.1,406.5 L262.6,406.0 L263.1,405.5 L263.7,405.0 L264.3,404.5 L265.0,404.1 L265.7,403.7 L266.4,403.3 L267.2,403.0 L268.0,402.7 L268.8,402.4 L269.6,402.2 L270.5,402.0 L271.4,401.9 L272.2,401.8Z" fill="#fff" stroke="#fff" stroke-width="3.6" stroke-linejoin="round"/>
<path d="M272.3,401.6 L272.2,400.4 L272.2,399.3 L272.2,398.2 L272.4,397.0 L272.7,395.9 L273.2,394.8 L273.7,393.7 L274.3,392.7 L275.1,391.7 L275.9,390.7 L276.9,389.8 L277.9,389.0 L279.0,388.2 L280.2,387.4 L281.4,386.8 L282.8,386.2 L284.1,385.6 L285.6,385.2 L287.0,384.8 L288.5,384.5 L290.1,384.3 L291.6,384.2 L293.2,384.2 L294.7,384.2 L296.3,384.4 L297.8,384.6 L299.3,384.9 L300.8,385.3 L302.2,385.7 L303.5,386.3 L304.3,385.4 L305.1,384.6 L306.0,383.8 L306.9,383.1 L308.0,382.4 L309.1,381.8 L310.3,381.3 L311.6,380.8 L312.9,380.5 L314.2,380.2 L315.6,380.0 L317.0,379.9 L318.4,379.8 L319.8,379.9 L321.1,380.1 L322.5,380.3 L323.8,380.6 L325.1,381.0 L326.3,381.5 L327.5,382.0 L328.6,382.6 L329.6,383.3 L330.2,382.6 L330.8,381.9 L331.5,381.2 L332.3,380.6 L333.2,380.1 L334.1,379.6 L335.0,379.1 L336.1,378.7 L337.1,378.4 L338.2,378.2 L339.3,378.0 L340.4,377.9 L341.6,377.8 L342.7,377.9 L343.8,378.0 L345.0,378.1 L346.0,378.4 L347.1,378.7 L348.1,379.0 L349.1,379.5 L350.0,380.0 L350.9,380.5 L351.7,381.1 L352.4,381.7 L353.2,381.1 L354.1,380.5 L355.0,380.0 L355.9,379.5 L357.0,379.1 L358.0,378.7 L359.1,378.4 L360.2,378.2 L361.4,378.0 L362.5,377.9 L363.7,377.9 L364.9,377.9 L366.0,378.0 L367.2,378.1 L368.3,378.3 L369.4,378.6 L370.5,379.0 L371.5,379.4 L372.5,379.9 L373.4,380.4 L374.3,380.9 L375.1,381.6 L375.8,382.2 L376.5,382.9 L377.1,383.7 L377.6,384.4 L378.0,385.2 L378.4,386.1 L378.6,386.9 L379.6,387.1 L380.6,387.4 L381.5,387.7 L382.5,388.1 L383.4,388.5 L384.2,388.9 L385.0,389.4 L385.8,389.9 L386.5,390.5 L387.2,391.1 L387.8,391.7 L388.4,392.3 L388.9,393.0 L389.3,393.7 L389.7,394.4 L390.1,395.1 L390.3,395.9 L390.5,396.6 L390.7,397.4 L390.8,398.2 L390.8,398.9 L390.7,399.7 L390.6,400.5 L390.4,401.2 L390.1,402.0 L389.8,402.7 L389.4,403.4 L390.2,404.2 L390.9,405.1 L391.6,405.9 L392.2,406.9 L392.6,407.8 L393.0,408.8 L393.3,409.7 L393.6,410.7 L393.7,411.7 L393.8,412.7 L393.7,413.7 L393.6,414.7 L393.4,415.7 L393.1,416.7 L392.7,417.6 L392.2,418.6 L391.7,419.5 L391.0,420.4 L390.3,421.2 L389.5,422.1 L388.7,422.8 L387.8,423.6 L386.8,424.3 L385.7,424.9 L384.6,425.5 L383.5,426.0 L382.3,426.5 L381.0,426.9 L379.8,427.3 L378.5,427.6 L377.1,427.8 L375.8,428.0 L375.7,429.0 L375.6,430.0 L375.3,431.0 L374.9,431.9 L374.5,432.9 L373.9,433.8 L373.3,434.6 L372.5,435.5 L371.7,436.3 L370.8,437.0 L369.8,437.7 L368.8,438.3 L367.7,438.9 L366.5,439.4 L365.3,439.9 L364.1,440.2 L362.8,440.5 L361.5,440.8 L360.1,440.9 L358.8,441.0 L357.4,441.0 L356.1,441.0 L354.8,440.8 L353.4,440.6 L352.1,440.3 L350.9,440.0 L349.7,439.5 L348.5,439.0 L347.9,440.2 L347.3,441.3 L346.5,442.4 L345.5,443.5 L344.5,444.5 L343.4,445.4 L342.2,446.2 L340.8,447.0 L339.4,447.7 L338.0,448.3 L336.4,448.8 L334.9,449.2 L333.2,449.6 L331.6,449.8 L329.9,449.9 L328.2,450.0 L326.6,449.9 L324.9,449.7 L323.3,449.5 L321.6,449.1 L320.1,448.6 L318.6,448.1 L317.1,447.5 L315.8,446.7 L314.5,445.9 L313.3,445.1 L312.2,444.1 L311.2,443.1 L309.3,443.9 L307.4,444.5 L305.4,445.0 L303.4,445.3 L301.3,445.6 L299.2,445.6 L297.1,445.6 L295.0,445.4 L292.9,445.1 L290.9,444.6 L288.9,444.0 L287.1,443.3 L285.3,442.5 L283.6,441.5 L282.1,440.5 L280.6,439.3 L279.4,438.1 L278.2,436.8 L277.3,436.9 L276.4,436.9 L275.5,436.8 L274.6,436.7 L273.7,436.6 L272.8,436.5 L271.9,436.2 L271.1,436.0 L270.3,435.7 L269.5,435.4 L268.7,435.0 L268.0,434.6 L267.3,434.1 L266.7,433.6 L266.1,433.1 L265.6,432.6 L265.1,432.0 L264.6,431.4 L264.3,430.8 L263.9,430.2 L263.7,429.6 L263.5,428.9 L263.3,428.3 L263.2,427.6 L263.2,426.9 L263.2,426.3 L263.3,425.6 L263.5,424.9 L263.7,424.3 L264.0,423.6 L264.3,423.0 L264.7,422.4 L265.2,421.8 L265.7,421.3 L266.2,420.7 L266.8,420.2 L266.1,419.9 L265.4,419.5 L264.7,419.1 L264.0,418.6 L263.4,418.2 L262.9,417.6 L262.4,417.1 L261.9,416.5 L261.5,416.0 L261.2,415.4 L260.8,414.7 L260.6,414.1 L260.4,413.5 L260.3,412.8 L260.2,412.2 L260.2,411.5 L260.2,410.9 L260.3,410.2 L260.5,409.6 L260.7,408.9 L261.0,408.3 L261.3,407.7 L261.7,407.1 L262.1,406.5 L262.6,406.0 L263.1,405.5 L263.7,405.0 L264.3,404.5 L265.0,404.1 L265.7,403.7 L266.4,403.3 L267.2,403.0 L268.0,402.7 L268.8,402.4 L269.6,402.2 L270.5,402.0 L271.4,401.9 L272.2,401.8Z" fill="#8EB2E4"/>
<path d="M274.8,421.3 L273.8,421.3 L272.8,421.3 L271.7,421.2 L270.7,421.1 L269.8,420.9 L268.8,420.6 L267.9,420.3 L267.0,420.0M281.7,435.8 L280.6,436.1 L279.4,436.3 L278.3,436.5M311.2,442.8 L310.6,442.1 L310.0,441.4 L309.6,440.7 L309.1,439.9M349.3,435.6 L349.2,436.2 L349.1,436.9 L348.9,437.5 L348.7,438.2 L348.5,438.8M365.7,415.9 L366.5,416.2 L367.2,416.5 L368.0,416.9 L368.7,417.3 L369.3,417.7 L370.0,418.1 L370.6,418.5 L371.2,419.0 L371.8,419.5 L372.3,420.0 L372.8,420.5 L373.3,421.1 L373.7,421.6 L374.1,422.2 L374.4,422.8 L374.7,423.4 L375.0,424.0 L375.2,424.6 L375.4,425.3 L375.6,425.9 L375.7,426.5 L375.7,427.2 L375.7,427.8M389.4,403.2 L389.0,403.8 L388.6,404.3 L388.2,404.9 L387.7,405.4 L387.2,405.9 L386.7,406.4 L386.1,406.8 L385.5,407.3 L384.9,407.7M378.6,386.7 L378.8,387.2 L378.8,387.7 L378.9,388.2 L378.9,388.8M350.1,384.2 L350.4,383.7 L350.7,383.2 L351.1,382.8 L351.5,382.3 L351.9,381.9 L352.4,381.5M328.7,385.5 L328.8,385.0 L329.0,384.5 L329.2,384.1 L329.5,383.6 L329.8,383.2M303.5,386.3 L304.6,386.8 L305.6,387.3 L306.6,387.9 L307.5,388.5M273.0,404.0 L272.8,403.2 L272.5,402.4 L272.3,401.6" fill="none" stroke="#fff" stroke-width="2"/>
<path d="M441.6,401.0 L441.4,399.9 L441.4,398.8 L441.5,397.7 L441.7,396.7 L442.0,395.6 L442.4,394.5 L443.0,393.5 L443.6,392.5 L444.4,391.6 L445.2,390.7 L446.2,389.8 L447.2,389.0 L448.3,388.2 L449.5,387.5 L450.8,386.9 L452.1,386.3 L453.5,385.8 L455.0,385.4 L456.5,385.1 L458.0,384.8 L459.5,384.6 L461.1,384.5 L462.7,384.5 L464.2,384.5 L465.8,384.6 L467.3,384.8 L468.9,385.1 L470.3,385.5 L471.8,385.9 L473.2,386.4 L473.9,385.6 L474.7,384.8 L475.6,384.1 L476.6,383.4 L477.7,382.7 L478.8,382.2 L480.0,381.7 L481.3,381.3 L482.6,380.9 L484.0,380.7 L485.4,380.5 L486.8,380.4 L488.2,380.3 L489.6,380.4 L491.0,380.5 L492.3,380.7 L493.7,381.0 L495.0,381.4 L496.2,381.9 L497.4,382.4 L498.5,383.0 L499.6,383.6 L500.1,382.9 L500.8,382.3 L501.5,381.7 L502.3,381.1 L503.1,380.6 L504.1,380.1 L505.0,379.7 L506.1,379.3 L507.1,379.0 L508.2,378.7 L509.4,378.6 L510.5,378.5 L511.6,378.4 L512.8,378.4 L513.9,378.5 L515.1,378.7 L516.2,378.9 L517.2,379.2 L518.3,379.6 L519.3,380.0 L520.2,380.4 L521.1,381.0 L521.9,381.5 L522.6,382.1 L523.4,381.5 L524.3,381.0 L525.2,380.5 L526.2,380.0 L527.2,379.6 L528.3,379.3 L529.4,379.0 L530.5,378.7 L531.7,378.6 L532.9,378.5 L534.0,378.4 L535.2,378.5 L536.4,378.5 L537.6,378.7 L538.7,378.9 L539.8,379.2 L540.9,379.5 L541.9,379.9 L542.9,380.3 L543.9,380.8 L544.8,381.4 L545.6,382.0 L546.3,382.6 L547.0,383.3 L547.6,384.0 L548.1,384.7 L548.5,385.5 L548.9,386.2 L549.1,387.0 L550.2,387.3 L551.1,387.5 L552.1,387.8 L553.0,388.2 L553.9,388.5 L554.8,389.0 L555.6,389.4 L556.4,389.9 L557.1,390.4 L557.8,391.0 L558.4,391.6 L559.0,392.2 L559.5,392.8 L560.0,393.5 L560.4,394.2 L560.7,394.9 L561.0,395.6 L561.2,396.3 L561.3,397.0 L561.4,397.7 L561.4,398.5 L561.4,399.2 L561.2,399.9 L561.0,400.6 L560.8,401.3 L560.5,402.0 L560.1,402.7 L560.9,403.5 L561.6,404.3 L562.3,405.1 L562.8,406.0 L563.3,406.9 L563.7,407.8 L564.0,408.7 L564.3,409.7 L564.4,410.6 L564.5,411.6 L564.4,412.5 L564.3,413.5 L564.1,414.4 L563.8,415.3 L563.4,416.2 L562.9,417.1 L562.3,418.0 L561.7,418.8 L561.0,419.7 L560.2,420.4 L559.3,421.2 L558.4,421.9 L557.4,422.5 L556.3,423.1 L555.2,423.7 L554.0,424.2 L552.8,424.7 L551.6,425.1 L550.3,425.4 L549.0,425.7 L547.6,425.9 L546.3,426.1 L546.2,427.0 L546.1,428.0 L545.8,428.9 L545.4,429.8 L545.0,430.7 L544.4,431.6 L543.7,432.4 L543.0,433.2 L542.2,433.9 L541.2,434.6 L540.3,435.3 L539.2,435.9 L538.1,436.4 L536.9,436.9 L535.7,437.3 L534.4,437.7 L533.1,438.0 L531.8,438.2 L530.4,438.4 L529.1,438.5 L527.7,438.5 L526.3,438.4 L525.0,438.3 L523.6,438.1 L522.3,437.8 L521.1,437.4 L519.8,437.0 L518.6,436.6 L518.1,437.7 L517.4,438.8 L516.6,439.8 L515.7,440.8 L514.6,441.7 L513.5,442.6 L512.2,443.4 L510.9,444.1 L509.5,444.8 L508.0,445.4 L506.5,445.9 L504.9,446.3 L503.2,446.6 L501.5,446.8 L499.9,446.9 L498.2,446.9 L496.5,446.9 L494.8,446.7 L493.1,446.5 L491.5,446.1 L489.9,445.7 L488.4,445.2 L486.9,444.6 L485.5,443.9 L484.2,443.1 L483.0,442.3 L481.9,441.4 L480.9,440.5 L479.0,441.2 L477.1,441.8 L475.0,442.2 L473.0,442.6 L470.9,442.8 L468.7,442.8 L466.6,442.8 L464.5,442.6 L462.4,442.3 L460.4,441.9 L458.4,441.3 L456.5,440.6 L454.7,439.8 L453.0,439.0 L451.4,438.0 L450.0,436.9 L448.7,435.7 L447.5,434.4 L446.6,434.5 L445.7,434.5 L444.8,434.5 L443.9,434.4 L443.0,434.3 L442.1,434.1 L441.2,433.9 L440.3,433.7 L439.5,433.4 L438.7,433.1 L437.9,432.7 L437.2,432.3 L436.5,431.9 L435.9,431.4 L435.3,431.0 L434.7,430.4 L434.2,429.9 L433.8,429.4 L433.4,428.8 L433.1,428.2 L432.8,427.6 L432.6,427.0 L432.4,426.3 L432.4,425.7 L432.3,425.1 L432.4,424.4 L432.5,423.8 L432.6,423.2 L432.8,422.5 L433.1,421.9 L433.5,421.4 L433.9,420.8 L434.3,420.2 L434.8,419.7 L435.4,419.2 L436.0,418.7 L435.2,418.4 L434.5,418.0 L433.8,417.6 L433.2,417.2 L432.6,416.7 L432.0,416.2 L431.5,415.7 L431.0,415.2 L430.6,414.6 L430.3,414.1 L430.0,413.5 L429.7,412.9 L429.5,412.3 L429.4,411.7 L429.3,411.1 L429.3,410.4 L429.3,409.8 L429.4,409.2 L429.6,408.6 L429.8,408.0 L430.1,407.4 L430.4,406.8 L430.8,406.2 L431.2,405.7 L431.7,405.2 L432.3,404.7 L432.9,404.2 L433.5,403.8 L434.2,403.3 L434.9,403.0 L435.6,402.6 L436.4,402.3 L437.2,402.0 L438.0,401.8 L438.8,401.6 L439.7,401.4 L440.6,401.3 L441.5,401.2Z" fill="#7a7a7a" stroke="#7a7a7a" stroke-width="3.6" stroke-linejoin="round" opacity="0.40" transform="translate(0,1.5)" filter="url(#b1)"/>
<path d="M441.6,401.0 L441.4,399.9 L441.4,398.8 L441.5,397.7 L441.7,396.7 L442.0,395.6 L442.4,394.5 L443.0,393.5 L443.6,392.5 L444.4,391.6 L445.2,390.7 L446.2,389.8 L447.2,389.0 L448.3,388.2 L449.5,387.5 L450.8,386.9 L452.1,386.3 L453.5,385.8 L455.0,385.4 L456.5,385.1 L458.0,384.8 L459.5,384.6 L461.1,384.5 L462.7,384.5 L464.2,384.5 L465.8,384.6 L467.3,384.8 L468.9,385.1 L470.3,385.5 L471.8,385.9 L473.2,386.4 L473.9,385.6 L474.7,384.8 L475.6,384.1 L476.6,383.4 L477.7,382.7 L478.8,382.2 L480.0,381.7 L481.3,381.3 L482.6,380.9 L484.0,380.7 L485.4,380.5 L486.8,380.4 L488.2,380.3 L489.6,380.4 L491.0,380.5 L492.3,380.7 L493.7,381.0 L495.0,381.4 L496.2,381.9 L497.4,382.4 L498.5,383.0 L499.6,383.6 L500.1,382.9 L500.8,382.3 L501.5,381.7 L502.3,381.1 L503.1,380.6 L504.1,380.1 L505.0,379.7 L506.1,379.3 L507.1,379.0 L508.2,378.7 L509.4,378.6 L510.5,378.5 L511.6,378.4 L512.8,378.4 L513.9,378.5 L515.1,378.7 L516.2,378.9 L517.2,379.2 L518.3,379.6 L519.3,380.0 L520.2,380.4 L521.1,381.0 L521.9,381.5 L522.6,382.1 L523.4,381.5 L524.3,381.0 L525.2,380.5 L526.2,380.0 L527.2,379.6 L528.3,379.3 L529.4,379.0 L530.5,378.7 L531.7,378.6 L532.9,378.5 L534.0,378.4 L535.2,378.5 L536.4,378.5 L537.6,378.7 L538.7,378.9 L539.8,379.2 L540.9,379.5 L541.9,379.9 L542.9,380.3 L543.9,380.8 L544.8,381.4 L545.6,382.0 L546.3,382.6 L547.0,383.3 L547.6,384.0 L548.1,384.7 L548.5,385.5 L548.9,386.2 L549.1,387.0 L550.2,387.3 L551.1,387.5 L552.1,387.8 L553.0,388.2 L553.9,388.5 L554.8,389.0 L555.6,389.4 L556.4,389.9 L557.1,390.4 L557.8,391.0 L558.4,391.6 L559.0,392.2 L559.5,392.8 L560.0,393.5 L560.4,394.2 L560.7,394.9 L561.0,395.6 L561.2,396.3 L561.3,397.0 L561.4,397.7 L561.4,398.5 L561.4,399.2 L561.2,399.9 L561.0,400.6 L560.8,401.3 L560.5,402.0 L560.1,402.7 L560.9,403.5 L561.6,404.3 L562.3,405.1 L562.8,406.0 L563.3,406.9 L563.7,407.8 L564.0,408.7 L564.3,409.7 L564.4,410.6 L564.5,411.6 L564.4,412.5 L564.3,413.5 L564.1,414.4 L563.8,415.3 L563.4,416.2 L562.9,417.1 L562.3,418.0 L561.7,418.8 L561.0,419.7 L560.2,420.4 L559.3,421.2 L558.4,421.9 L557.4,422.5 L556.3,423.1 L555.2,423.7 L554.0,424.2 L552.8,424.7 L551.6,425.1 L550.3,425.4 L549.0,425.7 L547.6,425.9 L546.3,426.1 L546.2,427.0 L546.1,428.0 L545.8,428.9 L545.4,429.8 L545.0,430.7 L544.4,431.6 L543.7,432.4 L543.0,433.2 L542.2,433.9 L541.2,434.6 L540.3,435.3 L539.2,435.9 L538.1,436.4 L536.9,436.9 L535.7,437.3 L534.4,437.7 L533.1,438.0 L531.8,438.2 L530.4,438.4 L529.1,438.5 L527.7,438.5 L526.3,438.4 L525.0,438.3 L523.6,438.1 L522.3,437.8 L521.1,437.4 L519.8,437.0 L518.6,436.6 L518.1,437.7 L517.4,438.8 L516.6,439.8 L515.7,440.8 L514.6,441.7 L513.5,442.6 L512.2,443.4 L510.9,444.1 L509.5,444.8 L508.0,445.4 L506.5,445.9 L504.9,446.3 L503.2,446.6 L501.5,446.8 L499.9,446.9 L498.2,446.9 L496.5,446.9 L494.8,446.7 L493.1,446.5 L491.5,446.1 L489.9,445.7 L488.4,445.2 L486.9,444.6 L485.5,443.9 L484.2,443.1 L483.0,442.3 L481.9,441.4 L480.9,440.5 L479.0,441.2 L477.1,441.8 L475.0,442.2 L473.0,442.6 L470.9,442.8 L468.7,442.8 L466.6,442.8 L464.5,442.6 L462.4,442.3 L460.4,441.9 L458.4,441.3 L456.5,440.6 L454.7,439.8 L453.0,439.0 L451.4,438.0 L450.0,436.9 L448.7,435.7 L447.5,434.4 L446.6,434.5 L445.7,434.5 L444.8,434.5 L443.9,434.4 L443.0,434.3 L442.1,434.1 L441.2,433.9 L440.3,433.7 L439.5,433.4 L438.7,433.1 L437.9,432.7 L437.2,432.3 L436.5,431.9 L435.9,431.4 L435.3,431.0 L434.7,430.4 L434.2,429.9 L433.8,429.4 L433.4,428.8 L433.1,428.2 L432.8,427.6 L432.6,427.0 L432.4,426.3 L432.4,425.7 L432.3,425.1 L432.4,424.4 L432.5,423.8 L432.6,423.2 L432.8,422.5 L433.1,421.9 L433.5,421.4 L433.9,420.8 L434.3,420.2 L434.8,419.7 L435.4,419.2 L436.0,418.7 L435.2,418.4 L434.5,418.0 L433.8,417.6 L433.2,417.2 L432.6,416.7 L432.0,416.2 L431.5,415.7 L431.0,415.2 L430.6,414.6 L430.3,414.1 L430.0,413.5 L429.7,412.9 L429.5,412.3 L429.4,411.7 L429.3,411.1 L429.3,410.4 L429.3,409.8 L429.4,409.2 L429.6,408.6 L429.8,408.0 L430.1,407.4 L430.4,406.8 L430.8,406.2 L431.2,405.7 L431.7,405.2 L432.3,404.7 L432.9,404.2 L433.5,403.8 L434.2,403.3 L434.9,403.0 L435.6,402.6 L436.4,402.3 L437.2,402.0 L438.0,401.8 L438.8,401.6 L439.7,401.4 L440.6,401.3 L441.5,401.2Z" fill="#fff" stroke="#fff" stroke-width="3.6" stroke-linejoin="round"/>
<path d="M441.6,401.0 L441.4,399.9 L441.4,398.8 L441.5,397.7 L441.7,396.7 L442.0,395.6 L442.4,394.5 L443.0,393.5 L443.6,392.5 L444.4,391.6 L445.2,390.7 L446.2,389.8 L447.2,389.0 L448.3,388.2 L449.5,387.5 L450.8,386.9 L452.1,386.3 L453.5,385.8 L455.0,385.4 L456.5,385.1 L458.0,384.8 L459.5,384.6 L461.1,384.5 L462.7,384.5 L464.2,384.5 L465.8,384.6 L467.3,384.8 L468.9,385.1 L470.3,385.5 L471.8,385.9 L473.2,386.4 L473.9,385.6 L474.7,384.8 L475.6,384.1 L476.6,383.4 L477.7,382.7 L478.8,382.2 L480.0,381.7 L481.3,381.3 L482.6,380.9 L484.0,380.7 L485.4,380.5 L486.8,380.4 L488.2,380.3 L489.6,380.4 L491.0,380.5 L492.3,380.7 L493.7,381.0 L495.0,381.4 L496.2,381.9 L497.4,382.4 L498.5,383.0 L499.6,383.6 L500.1,382.9 L500.8,382.3 L501.5,381.7 L502.3,381.1 L503.1,380.6 L504.1,380.1 L505.0,379.7 L506.1,379.3 L507.1,379.0 L508.2,378.7 L509.4,378.6 L510.5,378.5 L511.6,378.4 L512.8,378.4 L513.9,378.5 L515.1,378.7 L516.2,378.9 L517.2,379.2 L518.3,379.6 L519.3,380.0 L520.2,380.4 L521.1,381.0 L521.9,381.5 L522.6,382.1 L523.4,381.5 L524.3,381.0 L525.2,380.5 L526.2,380.0 L527.2,379.6 L528.3,379.3 L529.4,379.0 L530.5,378.7 L531.7,378.6 L532.9,378.5 L534.0,378.4 L535.2,378.5 L536.4,378.5 L537.6,378.7 L538.7,378.9 L539.8,379.2 L540.9,379.5 L541.9,379.9 L542.9,380.3 L543.9,380.8 L544.8,381.4 L545.6,382.0 L546.3,382.6 L547.0,383.3 L547.6,384.0 L548.1,384.7 L548.5,385.5 L548.9,386.2 L549.1,387.0 L550.2,387.3 L551.1,387.5 L552.1,387.8 L553.0,388.2 L553.9,388.5 L554.8,389.0 L555.6,389.4 L556.4,389.9 L557.1,390.4 L557.8,391.0 L558.4,391.6 L559.0,392.2 L559.5,392.8 L560.0,393.5 L560.4,394.2 L560.7,394.9 L561.0,395.6 L561.2,396.3 L561.3,397.0 L561.4,397.7 L561.4,398.5 L561.4,399.2 L561.2,399.9 L561.0,400.6 L560.8,401.3 L560.5,402.0 L560.1,402.7 L560.9,403.5 L561.6,404.3 L562.3,405.1 L562.8,406.0 L563.3,406.9 L563.7,407.8 L564.0,408.7 L564.3,409.7 L564.4,410.6 L564.5,411.6 L564.4,412.5 L564.3,413.5 L564.1,414.4 L563.8,415.3 L563.4,416.2 L562.9,417.1 L562.3,418.0 L561.7,418.8 L561.0,419.7 L560.2,420.4 L559.3,421.2 L558.4,421.9 L557.4,422.5 L556.3,423.1 L555.2,423.7 L554.0,424.2 L552.8,424.7 L551.6,425.1 L550.3,425.4 L549.0,425.7 L547.6,425.9 L546.3,426.1 L546.2,427.0 L546.1,428.0 L545.8,428.9 L545.4,429.8 L545.0,430.7 L544.4,431.6 L543.7,432.4 L543.0,433.2 L542.2,433.9 L541.2,434.6 L540.3,435.3 L539.2,435.9 L538.1,436.4 L536.9,436.9 L535.7,437.3 L534.4,437.7 L533.1,438.0 L531.8,438.2 L530.4,438.4 L529.1,438.5 L527.7,438.5 L526.3,438.4 L525.0,438.3 L523.6,438.1 L522.3,437.8 L521.1,437.4 L519.8,437.0 L518.6,436.6 L518.1,437.7 L517.4,438.8 L516.6,439.8 L515.7,440.8 L514.6,441.7 L513.5,442.6 L512.2,443.4 L510.9,444.1 L509.5,444.8 L508.0,445.4 L506.5,445.9 L504.9,446.3 L503.2,446.6 L501.5,446.8 L499.9,446.9 L498.2,446.9 L496.5,446.9 L494.8,446.7 L493.1,446.5 L491.5,446.1 L489.9,445.7 L488.4,445.2 L486.9,444.6 L485.5,443.9 L484.2,443.1 L483.0,442.3 L481.9,441.4 L480.9,440.5 L479.0,441.2 L477.1,441.8 L475.0,442.2 L473.0,442.6 L470.9,442.8 L468.7,442.8 L466.6,442.8 L464.5,442.6 L462.4,442.3 L460.4,441.9 L458.4,441.3 L456.5,440.6 L454.7,439.8 L453.0,439.0 L451.4,438.0 L450.0,436.9 L448.7,435.7 L447.5,434.4 L446.6,434.5 L445.7,434.5 L444.8,434.5 L443.9,434.4 L443.0,434.3 L442.1,434.1 L441.2,433.9 L440.3,433.7 L439.5,433.4 L438.7,433.1 L437.9,432.7 L437.2,432.3 L436.5,431.9 L435.9,431.4 L435.3,431.0 L434.7,430.4 L434.2,429.9 L433.8,429.4 L433.4,428.8 L433.1,428.2 L432.8,427.6 L432.6,427.0 L432.4,426.3 L432.4,425.7 L432.3,425.1 L432.4,424.4 L432.5,423.8 L432.6,423.2 L432.8,422.5 L433.1,421.9 L433.5,421.4 L433.9,420.8 L434.3,420.2 L434.8,419.7 L435.4,419.2 L436.0,418.7 L435.2,418.4 L434.5,418.0 L433.8,417.6 L433.2,417.2 L432.6,416.7 L432.0,416.2 L431.5,415.7 L431.0,415.2 L430.6,414.6 L430.3,414.1 L430.0,413.5 L429.7,412.9 L429.5,412.3 L429.4,411.7 L429.3,411.1 L429.3,410.4 L429.3,409.8 L429.4,409.2 L429.6,408.6 L429.8,408.0 L430.1,407.4 L430.4,406.8 L430.8,406.2 L431.2,405.7 L431.7,405.2 L432.3,404.7 L432.9,404.2 L433.5,403.8 L434.2,403.3 L434.9,403.0 L435.6,402.6 L436.4,402.3 L437.2,402.0 L438.0,401.8 L438.8,401.6 L439.7,401.4 L440.6,401.3 L441.5,401.2Z" fill="#8EB2E4"/>
<path d="M444.1,419.7 L443.0,419.7 L442.0,419.7 L441.0,419.6 L440.0,419.5 L439.0,419.3 L438.0,419.1 L437.1,418.8 L436.1,418.4M451.0,433.5 L449.9,433.8 L448.8,434.0 L447.6,434.1M480.9,440.2 L480.3,439.5 L479.7,438.8 L479.2,438.1 L478.8,437.4M519.5,433.3 L519.4,433.9 L519.3,434.5 L519.1,435.1 L518.9,435.7 L518.7,436.3M536.1,414.6 L536.8,414.9 L537.6,415.2 L538.3,415.5 L539.1,415.9 L539.8,416.3 L540.4,416.7 L541.1,417.1 L541.7,417.5 L542.2,418.0 L542.8,418.5 L543.3,419.0 L543.7,419.5 L544.2,420.0 L544.6,420.6 L544.9,421.1 L545.2,421.7 L545.5,422.3 L545.7,422.9 L545.9,423.5 L546.0,424.1 L546.1,424.7 L546.2,425.3 L546.2,425.9M560.0,402.5 L559.7,403.1 L559.3,403.6 L558.8,404.1 L558.4,404.6 L557.9,405.1 L557.3,405.5 L556.7,406.0 L556.1,406.4 L555.5,406.8M549.2,386.8 L549.3,387.3 L549.4,387.8 L549.4,388.3 L549.4,388.8M520.3,384.5 L520.6,384.0 L520.9,383.6 L521.3,383.1 L521.7,382.7 L522.1,382.3 L522.6,381.9M498.6,385.7 L498.8,385.2 L498.9,384.8 L499.2,384.3 L499.4,383.9 L499.7,383.5M473.1,386.4 L474.2,386.9 L475.3,387.4 L476.3,388.0 L477.2,388.6M442.3,403.2 L442.0,402.5 L441.8,401.7 L441.6,401.0" fill="none" stroke="#fff" stroke-width="2"/>
<g opacity="0.95"><circle cx="445.5" cy="433" r="16" fill="none" stroke="#fff" stroke-width="3.5"/><circle cx="445.5" cy="433" r="10.5" fill="none" stroke="#fff" stroke-width="1.6"/><path d="M434,426 l4,-3 M440,421 l4,0 M447,421 l4,1 M453,424 l3,3" stroke="#fff" stroke-width="1.5" fill="none"/></g>
</svg>
<div class="ct" style="left:63.5px;top:271.1px;width:60px;">教学<br>管理</div>
<div class="ct" style="left:177.5px;top:271.4px;width:60px;">教学<br>督导</div>
<div class="ct" style="left:294.1px;top:271.4px;width:60px;">教学<br>设计</div>
<div class="ct" style="left:408.6px;top:271.4px;width:60px;">教学<br>实施</div>
<div class="ct" style="left:527.6px;top:271.0px;width:60px;">教学<br>效果</div>
<div class="cl" style="left:113.0px;top:404.5px;">全景图</div>
<div class="cl" style="left:287.5px;top:402.5px;">好课例</div>
<div class="cl" style="left:460.0px;top:403.0px;">小锦囊</div>
<div class="abs" id="wm" style="left:473px;top:419.5px;font-size:36px;line-height:40px;color:#fff;font-weight:bold;letter-spacing:5px;white-space:nowrap;transform:skewX(-6deg);text-shadow:0 0 1.2px rgba(0,0,0,0.35);">温州</div>
</body></html>
